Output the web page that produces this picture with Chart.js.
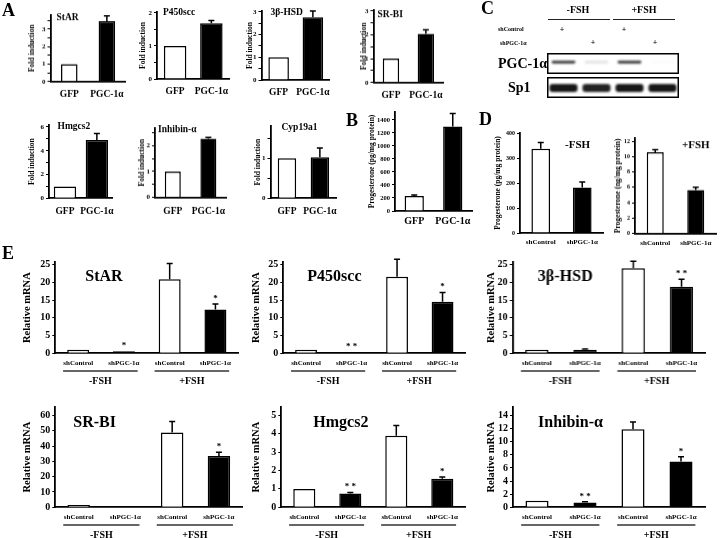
<!DOCTYPE html>
<html>
<head>
<meta charset="utf-8">
<script src="https://cdn.jsdelivr.net/npm/chart.js@4.4.1/dist/chart.umd.min.js"></script>
<style>
    body { margin: 0; width: 720px; height: 538px; background: #fff; position: relative; overflow: hidden;
           font-family: 'Liberation Serif', 'Times New Roman', serif; font-weight: bold; color: #000;
           -webkit-font-smoothing: antialiased; }
    .panel { position: absolute; }
    .txt { position: absolute; white-space: nowrap; line-height: 1; color: #000; will-change: transform; }
    .rule { position: absolute; height: 0; border-top: 1.5px solid #222; }
</style>
</head>
<body>
<script>
// ---- data ----
const foldCats = ['GFP', 'PGC-1α'];
const foldColors = ['#fff', '#000'];

const starA = [1.0, 3.45], starAErr = [0, 0.3];
const p450A = [1.0, 1.69], p450AErr = [0, 0.08];
const hsdA = [1.0, 2.76], hsdAErr = [0, 0.28];
const srbiA = [1.0, 2.04], srbiAErr = [0, 0.17];
const hmgA = [1.0, 4.9], hmgAErr = [0, 0.55];
const inhA = [1.0, 2.27], inhAErr = [0, 0.05];
const cypA = [1.0, 1.02], cypAErr = [0, 0.23];

const progB = [230, 1300], progBErr = [15, 200];

const shCats = ['shControl', 'shPGC-1α'];
const progMinus = [337, 182], progMinusErr = [25, 22];
const progPlus = [10.56, 5.66], progPlusErr = [0.35, 0.35];

const blotLanes = ['1', '2', '3', '4'];
const blotShControl = ['+', '', '+', ''];
const blotShPgc = ['', '+', '', '+'];
const pgcBand = [0.85, 0.12, 0.85, 0.02];
const sp1Band = [0.95, 0.9, 0.95, 0.95];

const eCats = ['shControl', 'shPGC-1α', 'shControl', 'shPGC-1α'];
const eColors = ['#fff', '#000', '#fff', '#000'];
const fshGroups = ['-FSH', '+FSH'];

const starE = [1.0, 0.6, 20.9, 12.4], starEErr = [0, 0, 4.5, 1.5], starEStars = ['', '*', '', '*'];
const p450E = [1.0, 0.4, 21.6, 14.6], p450EErr = [0, 0, 5, 2.6], p450EStars = ['', '* *', '', '*'];
const hsdE = [1.0, 1.0, 24.0, 18.8], hsdEErr = [0, 0.2, 2, 2.1], hsdEStars = ['', '', '', '* *'];
const srbiE = [1.5, 0.8, 48.8, 33.5], srbiEErr = [0, 0, 7.2, 2.4], srbiEStars = ['', '', '', '*'];
const hmgE = [1.0, 0.75, 3.89, 1.55], hmgEErr = [0, 0.05, 0.55, 0.1], hmgEStars = ['', '* *', '', '*'];
const inhE = [1.0, 0.75, 11.9, 7.0], inhEErr = [0, 0.1, 1.1, 0.7], inhEStars = ['', '* *', '', '*'];

// ---- helpers ----
const SERIF = "'Liberation Serif', 'Times New Roman', serif";
const isMult = (v, s) => Math.abs(v / s - Math.round(v / s)) < 1e-6;

const addText = (text, x, y, size, center) => {
    const el = document.createElement('div');
    el.className = 'txt';
    el.textContent = text;
    el.style.left = x + 'px';
    el.style.top = y + 'px';
    el.style.fontSize = size + 'px';
    el.style.transform = center ? 'translate(-50%,-50%)' : 'translateY(-50%)';
    document.body.appendChild(el);
};

const addRule = (x0, x1, y) => {
    const el = document.createElement('div');
    el.className = 'rule';
    el.style.left = x0 + 'px';
    el.style.top = y + 'px';
    el.style.width = (x1 - x0) + 'px';
    document.body.appendChild(el);
};

const makeBox = (left, top, width, height) => {
    const div = document.createElement('div');
    div.className = 'panel';
    div.style.left = left + 'px';
    div.style.top = top + 'px';
    div.style.width = width + 'px';
    div.style.height = height + 'px';
    const canvas = document.createElement('canvas');
    div.appendChild(canvas);
    document.body.appendChild(div);
    return canvas;
};

// error bars, significance stars, in-plot title and -FSH/+FSH brackets
const extras = (c) => ({
    id: 'extras',
    afterDraw(chart) {
        const ctx = chart.ctx;
        const y = chart.scales.y;
        const x = chart.scales.x;
        const area = chart.chartArea;
        const bars = chart.getDatasetMeta(0).data;
        ctx.save();
        ctx.strokeStyle = '#000';
        ctx.fillStyle = '#000';
        ctx.lineWidth = 1.5;
        c.values.forEach((v, i) => {
            const e = c.errors[i] || 0;
            const bx = bars[i].x;
            let top = y.getPixelForValue(v);
            if (e > 0) {
                const yt = y.getPixelForValue(v + e);
                ctx.beginPath();
                ctx.moveTo(bx, top);
                ctx.lineTo(bx, yt);
                ctx.moveTo(bx - 3, yt);
                ctx.lineTo(bx + 3, yt);
                ctx.stroke();
                top = yt;
            }
            if (c.stars && c.stars[i]) {
                ctx.font = `bold 9px ${SERIF}`;
                ctx.textAlign = 'center';
                ctx.textBaseline = 'bottom';
                ctx.fillText(c.stars[i], bx, top - 1);
            }
        });
        if (c.title) {
            ctx.font = `bold ${c.titleFont}px ${SERIF}`;
            ctx.textAlign = 'left';
            ctx.textBaseline = 'middle';
            ctx.fillText(c.title, area.left + c.tdx, area.top + c.tdy);
        }
        if (c.groups) {
            const catW = x.getPixelForValue(1) - x.getPixelForValue(0);
            c.groups.forEach((g, gi) => {
                const xs = bars[gi * 2].x - 0.33 * catW;
                const xe = bars[gi * 2 + 1].x + 0.3 * catW;
                ctx.strokeStyle = '#333';
                ctx.beginPath();
                ctx.moveTo(xs, area.bottom + 17.7);
                ctx.lineTo(xe, area.bottom + 17.7);
                ctx.stroke();
                ctx.font = `bold 10px ${SERIF}`;
                ctx.textAlign = 'center';
                ctx.textBaseline = 'middle';
                ctx.fillText(g, (xs + xe) / 2, area.bottom + 28.4);
            });
        }
        ctx.restore();
    },
});

const drawBars = (c) => {
    const padT = 8;
    const padR = c.padR ?? 4;
    const canvas = makeBox(c.x0 - c.yW, c.yTop - padT, c.x1 - c.x0 + c.yW + padR, c.yBot - c.yTop + padT + c.xH);
    const labelStep = c.labelStep || c.step;
    new Chart(canvas, {
        type: 'bar',
        data: {
            labels: c.labels,
            datasets: [{
                data: c.values,
                backgroundColor: c.colors,
                borderColor: '#000',
                borderWidth: 1.5,
                barPercentage: c.barPct,
                categoryPercentage: 1,
            }],
        },
        options: {
            responsive: true,
            maintainAspectRatio: false,
            animation: false,
            layout: { padding: { top: padT, right: padR, left: 0, bottom: 0 } },
            plugins: { legend: { display: false }, tooltip: { enabled: false } },
            scales: {
                x: {
                    grid: { display: false, drawTicks: false },
                    border: { display: true, color: '#000', width: 1.8 },
                    ticks: { color: '#000', font: { family: SERIF, weight: 'bold', size: c.xFont }, padding: c.xPad, maxRotation: 0, autoSkip: false },
                    afterFit: (s) => { s.height = c.xH; },
                },
                y: {
                    min: 0,
                    max: c.max,
                    grid: { display: true, drawOnChartArea: false, drawTicks: true, tickLength: 3, color: '#000', lineWidth: 1 },
                    border: { display: true, color: '#000', width: 1.8 },
                    ticks: {
                        stepSize: c.step,
                        autoSkip: false,
                        color: '#000',
                        padding: 2,
                        font: { family: SERIF, weight: 'bold', size: c.tickFont },
                        callback: (v) => (isMult(v, labelStep) ? String(v) : ''),
                    },
                    title: { display: true, text: c.yTitle, color: '#000', padding: 0, font: { family: SERIF, weight: 'bold', size: c.yTitleFont } },
                    afterBuildTicks: (s) => {
                        const ticks = [];
                        for (let k = 0; k * c.step <= c.max + 1e-9; k++) {
                            ticks.push({ value: +(k * c.step).toFixed(6) });
                        }
                        s.ticks = ticks;
                    },
                    afterFit: (s) => { s.width = c.yW; },
                },
            },
        },
        plugins: [extras(c)],
    });
};

const drawBlot = (left, top, width, height, bands, thick, yc, pct) => {
    const canvas = makeBox(left, top, width, height);
    new Chart(canvas, {
        type: 'bar',
        data: {
            labels: blotLanes,
            datasets: [{
                data: bands.map(() => [yc - thick / 2, yc + thick / 2]),
                backgroundColor: bands.map((v) => `rgba(10,10,10,${v})`),
                borderWidth: 0,
                borderRadius: 3,
                borderSkipped: false,
                barPercentage: pct,
                categoryPercentage: 1,
            }],
        },
        options: {
            responsive: true,
            maintainAspectRatio: false,
            animation: false,
            layout: { padding: 0 },
            plugins: { legend: { display: false }, tooltip: { enabled: false } },
            scales: { x: { display: false }, y: { display: false, min: 0, max: 1 } },
        },
        plugins: [{
            id: 'blotLook',
            beforeDatasetsDraw(chart) { chart.ctx.save(); chart.ctx.filter = 'blur(0.8px)'; },
            afterDatasetsDraw(chart) { chart.ctx.restore(); },
            afterDraw(chart) {
                const { ctx, chartArea: a } = chart;
                ctx.save();
                ctx.strokeStyle = '#000';
                ctx.lineWidth = 1.5;
                ctx.strokeRect(a.left + 0.75, a.top + 0.75, a.right - a.left - 1.5, a.bottom - a.top - 1.5);
                ctx.restore();
            },
        }],
    });
};

// ---- panel A ----
const aStyle = { labels: foldCats, colors: foldColors, tickFont: 7, xFont: 9.5, titleFont: 9.5, yTitleFont: 7.5, yTitle: 'Fold induction', step: 0.5, labelStep: 1 };
const aRow1 = { ...aStyle, xH: 22, xPad: 7 };
const aRow2 = { ...aStyle, xH: 22, xPad: 8 };

drawBars({ ...aRow1, x0: 50, x1: 127, yTop: 15, yBot: 80.7, max: 3.8, yW: 22.5, values: starA, errors: starAErr, barPct: 0.44, title: 'StAR', tdx: 6, tdy: 3 });
drawBars({ ...aRow1, x0: 157, x1: 232, yTop: 12, yBot: 79, max: 2.03, yW: 18, values: p450A, errors: p450AErr, barPct: 0.62, title: 'P450scc', tdx: 6, tdy: 1 });
drawBars({ ...aRow1, x0: 261, x1: 333, yTop: 11, yBot: 80, max: 3.04, yW: 15.5, values: hsdA, errors: hsdAErr, barPct: 0.6, title: '3β-HSD', tdx: 9, tdy: 2 });
drawBars({ ...aRow1, x0: 373, x1: 446, yTop: 10, yBot: 81.7, max: 3.03, yW: 13.5, values: srbiA, errors: srbiAErr, barPct: 0.47, title: 'SR-BI', tdx: 4, tdy: 5 });
drawBars({ ...aRow2, x0: 48.5, x1: 118, yTop: 125, yBot: 198.3, max: 6.16, step: 1, labelStep: 2, yW: 21, values: hmgA, errors: hmgAErr, barPct: 0.7, title: 'Hmgcs2', tdx: 8.5, tdy: 1.5 });
drawBars({ ...aRow2, x0: 155, x1: 230, yTop: 128.3, yBot: 196.7, max: 2.68, yW: 17, values: inhA, errors: inhAErr, barPct: 0.45, title: 'Inhibin-α', tdx: 3, tdy: 2 });
drawBars({ ...aRow2, x0: 270, x1: 341, yTop: 126, yBot: 198.3, max: 1.8, yW: 16.5, values: cypA, errors: cypAErr, barPct: 0.56, title: 'Cyp19a1', tdx: 11, tdy: 2 });

// ---- panel B ----
drawBars({ labels: foldCats, colors: foldColors, tickFont: 6.5, xFont: 10, yTitleFont: 7.5, yTitle: 'Progesterone (pg/mg protein)',
    x0: 395, x1: 472, yTop: 112, yBot: 211, max: 1523, step: 200, yW: 27, xH: 18, xPad: 4.5,
    values: progB, errors: progBErr, barPct: 0.5 });

// ---- panel D ----
const dStyle = { labels: shCats, colors: foldColors, tickFont: 6, xFont: 7, titleFont: 11, yTitleFont: 7.5, xH: 16, xPad: 5, barPct: 0.45 };
drawBars({ ...dStyle, x0: 520, x1: 603, yTop: 133.3, yBot: 233.3, max: 400, step: 100, yW: 26, yTitle: 'Progesterone (pg/mg protein)',
    values: progMinus, errors: progMinusErr, title: '-FSH', tdx: 45, tdy: 12 });
drawBars({ ...dStyle, x0: 635, x1: 716, yTop: 138, yBot: 232.7, max: 12.4, step: 2, yW: 21, padR: 2, yTitle: 'Progesterone (ng/mg protein)',
    values: progPlus, errors: progPlusErr, title: '+FSH', tdx: 47, tdy: 7, barPct: 0.42 });

// ---- panel E ----
const eStyle = { labels: eCats, colors: eColors, groups: fshGroups, tickFont: 10, xFont: 7, titleFont: 16, yTitleFont: 10.5, yTitle: 'Relative mRNA', xH: 36, xPad: 6, barPct: 0.48 };
const eRow1 = { ...eStyle, yTop: 262, yBot: 353.3, max: 25.8, step: 5 };
drawBars({ ...eRow1, x0: 55, x1: 238, yW: 34.3, values: starE, errors: starEErr, stars: starEStars, title: 'StAR', tdx: 30, tdy: 15 });
drawBars({ ...eRow1, x0: 283, x1: 465, yW: 33.3, values: p450E, errors: p450EErr, stars: p450EStars, title: 'P450scc', tdx: 24, tdy: 15 });
drawBars({ ...eRow1, x0: 513, x1: 705, yW: 27.6, values: hsdE, errors: hsdEErr, stars: hsdEStars, title: '3β-HSD', tdx: 25, tdy: 15 });
const eRow2 = { ...eStyle, yTop: 407, yBot: 507.3 };
drawBars({ ...eRow2, x0: 55, x1: 242, max: 65.5, step: 10, yW: 34.3, values: srbiE, errors: srbiEErr, stars: srbiEStars, title: 'SR-BI', tdx: 18, tdy: 15.7 });
drawBars({ ...eRow2, x0: 281, x1: 465, max: 5.45, step: 1, yW: 31.3, values: hmgE, errors: hmgEErr, stars: hmgEStars, title: 'Hmgcs2', tdx: 32, tdy: 15.7 });
drawBars({ ...eRow2, x0: 513, x1: 705, max: 15.3, step: 2, yW: 28, values: inhE, errors: inhEErr, stars: inhEStars, title: 'Inhibin-α', tdx: 25, tdy: 15.7 });

// ---- panel C (western blot) ----
const blotLeft = 547, blotWidth = 132;
drawBlot(blotLeft, 53, blotWidth, 21, pgcBand, 0.13, 0.57, 0.72);
drawBlot(blotLeft, 77, blotWidth, 21, sp1Band, 0.38, 0.48, 0.85);
const laneX = (i) => blotLeft + (i + 0.5) * blotWidth / blotLanes.length - 1.5 - 2 * i;
addText('-FSH', 578, 10, 10, true);
addText('+FSH', 644, 10, 10, true);
addRule(548, 610, 19);
addRule(613, 675, 19);
addText('shControl', 498, 29, 6);
addText('shPGC-1α', 500, 43, 6);
blotShControl.forEach((s, i) => { if (s) addText(s, laneX(i), 30, 8, true); });
blotShPgc.forEach((s, i) => { if (s) addText(s, laneX(i), 43, 8, true); });
addText('PGC-1α', 498, 64, 14);
addText('Sp1', 508, 88, 14);

// ---- panel letters ----
addText('A', 2, 10, 18);
addText('B', 346, 120, 18);
addText('C', 481, 8, 18);
addText('D', 479, 119, 18);
addText('E', 2, 253, 18);
</script>
</body>
</html>
